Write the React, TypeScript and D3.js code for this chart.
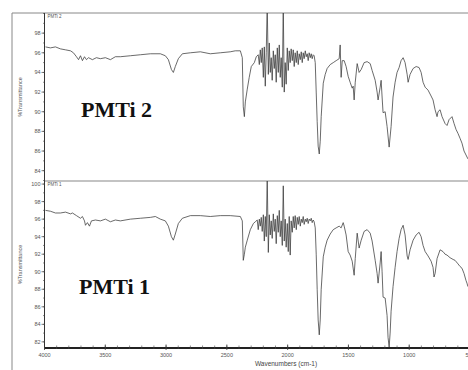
import React from "react";
import * as d3 from "d3";

// PMTi 2 spectrum: [wavenumber cm-1, %T]
const pmti2Wave = [3992,3951,3910,3869,3827,3786,3762,3737,3720,3704,3688,3671,3655,3638,3606,3573,3540,3499,3458,3417,3376,3293,3211,3129,3047,3006,2981,2956,2940,2924,2899,2866,2800,2718,2636,2554,2472,2431,2389,2373,2365,2356,2348,2332,2316,2299,2274,2258,2242,2233,2225,2217,2209,2200,2192,2184,2176,2168,2159,2151,2143,2135,2127,2118,2110,2102,2094,2085,2077,2069,2061,2053,2044,2036,2028,2020,2012,2003,1995,1987,1979,1971,1962,1954,1946,1938,1929,1921,1913,1905,1896,1888,1880,1872,1864,1855,1847,1839,1831,1823,1814,1806,1798,1790,1782,1773,1765,1757,1749,1740,1732,1724,1707,1691,1675,1650,1625,1601,1576,1568,1560,1551,1535,1519,1502,1486,1469,1461,1453,1444,1428,1412,1395,1371,1346,1321,1305,1280,1264,1256,1239,1231,1223,1215,1198,1182,1165,1149,1133,1116,1100,1083,1067,1050,1034,1017,1009,993,968,943,919,902,886,869,845,820,804,787,771,763,746,730,705,689,672,648,631,615,599,582,566,549,533,517];
const pmti2T = [96.6,96.5,96.6,96.4,96.3,96.2,96.0,95.6,95.3,95.7,95.2,95.6,95.3,95.5,95.3,95.5,95.4,95.5,95.3,95.6,95.6,95.7,95.8,95.9,95.9,95.7,95.3,94.3,94.0,94.6,95.4,95.9,96.0,96.1,95.9,96.0,96.1,96.2,96.2,95.5,90.5,89.5,91.0,92.3,93.5,94.6,95.0,95.6,95.8,94.8,96.3,95.0,96.5,93.5,96.6,92.6,96.0,101,93.8,97.0,94.0,95.5,93.2,96.2,94.4,95.8,93.0,96.5,94.0,96.8,93.5,95.5,92.5,101,92.0,95.0,92.8,96.5,94.2,96.2,95.0,96.4,95.2,96.3,94.6,96.0,95.0,96.2,94.8,95.9,95.3,96.1,95.0,96.0,95.4,96.2,95.6,95.9,95.2,96.0,95.5,95.9,95.4,95.8,95.7,95.0,92.0,89.0,86.5,85.7,87.0,89.5,92.9,93.8,94.4,94.8,95.0,95.2,95.4,96.8,93.5,95.2,95.2,94.6,93.6,93.0,92.4,92.6,91.2,93.0,94.9,94.0,94.3,95.0,95.1,94.9,94.2,93.2,92.0,91.2,92.5,93.2,91.5,89.9,90.0,88.5,86.4,88.5,91.5,93.0,94.0,94.5,95.2,95.5,95.0,93.8,93.0,93.8,94.4,94.6,94.5,94.0,93.0,92.5,92.2,91.6,91.2,90.2,89.5,90.0,90.2,89.5,88.8,88.6,89.2,89.5,88.8,88.2,87.8,87.3,86.8,86.0,85.6,85.2];

// PMTi 1 spectrum
const pmti1Wave = [3992,3951,3910,3869,3827,3786,3770,3737,3704,3688,3671,3663,3647,3630,3614,3581,3540,3499,3458,3417,3376,3293,3211,3129,3088,3047,3006,2981,2956,2940,2924,2899,2866,2800,2718,2636,2554,2472,2389,2373,2365,2356,2348,2332,2307,2282,2266,2250,2242,2233,2225,2217,2209,2200,2192,2184,2176,2168,2159,2151,2143,2135,2127,2118,2110,2102,2094,2085,2077,2069,2061,2053,2044,2036,2028,2020,2012,2003,1995,1987,1979,1971,1962,1954,1946,1938,1929,1921,1913,1905,1896,1888,1880,1872,1864,1855,1847,1839,1831,1823,1814,1806,1798,1790,1782,1773,1765,1757,1749,1740,1732,1724,1707,1691,1675,1650,1625,1601,1576,1560,1543,1535,1519,1502,1486,1469,1453,1444,1428,1412,1395,1371,1346,1321,1305,1280,1264,1256,1239,1231,1223,1215,1198,1182,1174,1165,1157,1149,1133,1116,1100,1083,1067,1050,1034,1017,1009,993,968,943,919,902,886,869,845,820,804,796,787,771,746,722,705,689,664,639,623,599,582,566,549,533,525,517];
const pmti1T = [97.0,96.9,96.7,96.7,96.8,96.6,96.7,96.4,96.1,96.3,95.8,95.3,95.6,95.2,95.8,95.9,95.8,96.0,95.7,95.9,95.8,96.0,96.1,96.2,96.3,96.0,95.8,95.2,94.0,93.6,94.3,95.5,96.1,96.4,96.4,96.3,96.4,96.4,96.3,95.8,91.3,92.0,92.8,93.6,94.8,95.5,95.7,95.9,94.8,96.0,95.2,96.2,94.6,96.5,93.5,96.3,94.0,101,92.2,96.5,94.2,95.8,93.8,96.6,94.6,96.0,93.2,96.4,94.5,97.0,94.0,95.8,93.0,99.8,93.5,96.0,92.8,95.5,92.3,96.3,91.9,95.8,94.5,96.3,95.0,96.4,94.8,96.2,95.4,96.3,95.2,96.0,95.6,96.3,95.4,96.0,95.7,96.1,95.5,96.0,95.8,96.1,95.6,95.9,95.7,95.0,92.0,88.0,84.5,82.8,84.5,88.0,91.7,92.8,93.6,94.3,94.8,95.0,95.2,95.0,95.6,95.2,94.2,92.3,91.9,91.2,89.6,91.5,94.4,92.7,93.6,94.6,94.8,94.4,93.5,91.3,89.8,88.7,91.0,92.3,90.0,87.1,87.0,85.0,82.5,81.4,83.0,85.5,88.3,90.5,92.3,93.8,94.8,95.3,94.2,91.8,91.4,92.5,93.6,94.2,94.5,94.0,93.0,92.3,91.8,91.2,90.5,89.4,89.8,91.5,92.5,92.3,92.0,91.9,91.6,91.4,91.3,90.9,90.6,90.4,89.8,89.0,88.7,88.3];

const xTicks = [4000, 3500, 3000, 2500, 2000, 1500, 1000, 500];
const upperTicks = [98, 96, 94, 92, 90, 88, 86, 84];
const lowerTicks = [100, 98, 96, 94, 92, 90, 88, 86, 84, 82];

const W = 468, H = 370;
const X0 = 44.5, X1 = 470;
const TOP = 13, MID = 181, BOT = 348;

export default function App() {
  const x = d3.scaleLinear().domain([4000, 500]).range([X0, X1]);
  const yU = d3.scaleLinear().domain([82.95, 100.05]).range([MID, TOP]);
  const yL = d3.scaleLinear().domain([81.3, 100.35]).range([BOT, MID]);

  const upperData = pmti2Wave.map((w, i) => [w, pmti2T[i]] as [number, number]);
  const lowerData = pmti1Wave.map((w, i) => [w, pmti1T[i]] as [number, number]);

  const lineU = d3.line<[number, number]>().x(d => x(d[0])).y(d => yU(d[1]));
  const lineL = d3.line<[number, number]>().x(d => x(d[0])).y(d => yL(d[1]));

  const minorX = d3.range(4000, 400, -100);
  const font = "'Liberation Sans', Arial, sans-serif";
  const tickColor = "#555";

  const yAxis = (scale: d3.ScaleLinear<number, number>, ticks: number[], lo: number, hi: number, key: string) => (
    <g key={key}>
      {d3.range(Math.ceil(lo), Math.floor(hi) + 1).map(v => (
        <line key={"m" + v} x1={X0 - 1.5} x2={X0} y1={scale(v)} y2={scale(v)} stroke="#444" strokeWidth={0.6} />
      ))}
      {ticks.map(t => (
        <g key={t}>
          <line x1={X0 - 3} x2={X0} y1={scale(t)} y2={scale(t)} stroke="#444" strokeWidth={0.7} />
          <text x={X0 - 4} y={scale(t) + 2} textAnchor="end" fontSize={5.5} fill={tickColor} fontFamily={font}>{t}</text>
        </g>
      ))}
    </g>
  );

  return (
    <svg width={W} height={H} style={{ position: "absolute", left: 0, top: 0, background: "#fff" }}>
      <defs>
        <clipPath id="clipU"><rect x={X0} y={TOP} width={X1 - X0} height={MID - TOP} /></clipPath>
        <clipPath id="clipL"><rect x={X0} y={MID} width={X1 - X0} height={BOT - MID} /></clipPath>
      </defs>
      <rect x={0} y={0} width={W} height={H} fill="#fff" />
      {/* outer frame */}
      <line x1={12} x2={W} y1={TOP} y2={TOP} stroke="#888" strokeWidth={1} />
      <line x1={12} x2={12} y1={TOP} y2={H} stroke="#888" strokeWidth={1} />
      {/* panel separator */}
      <line x1={X0} x2={W} y1={MID} y2={MID} stroke="#888" strokeWidth={1.2} />

      {/* spectra */}
      <path d={lineU(upperData) || ""} fill="none" stroke="#383838" strokeWidth={0.75} clipPath="url(#clipU)" />
      <path d={lineL(lowerData) || ""} fill="none" stroke="#383838" strokeWidth={0.75} clipPath="url(#clipL)" />

      {/* y axis */}
      <line x1={X0} x2={X0} y1={TOP} y2={BOT} stroke="#333" strokeWidth={1} />
      {yAxis(yU, upperTicks, 83, 100, "u")}
      {yAxis(yL, lowerTicks, 82, 100, "l")}

      {/* x axis */}
      <line x1={X0} x2={W} y1={BOT} y2={BOT} stroke="#222" strokeWidth={2} />
      {minorX.map(v => (
        <line key={"mx" + v} x1={x(v)} x2={x(v)} y1={BOT - 2.5} y2={BOT + 1} stroke="#444" strokeWidth={0.6} />
      ))}
      {xTicks.map(t => (
        <g key={t}>
          <line x1={x(t)} x2={x(t)} y1={BOT - 3.5} y2={BOT + 2} stroke="#333" strokeWidth={0.8} />
          <text x={x(t)} y={BOT + 9} textAnchor="middle" fontSize={5.5} fill={tickColor} fontFamily={font}>{t}</text>
        </g>
      ))}
      <text x={286} y={366} textAnchor="middle" fontSize={6.5} fill="#444" fontFamily={font}>Wavenumbers (cm-1)</text>

      {/* y titles */}
      <text transform={`translate(22,${(TOP + MID) / 2}) rotate(-90)`} textAnchor="middle" fontSize={5.5} fill="#555" fontFamily={font}>%Transmittance</text>
      <text transform={`translate(22,${(MID + BOT) / 2}) rotate(-90)`} textAnchor="middle" fontSize={5.5} fill="#555" fontFamily={font}>%Transmittance</text>

      {/* small panel labels */}
      <text x={X0 + 3} y={TOP + 4.5} fontSize={4.5} fill="#555" fontFamily={font}>PMTi 2</text>
      <text x={X0 + 3} y={MID + 4.5} fontSize={4.5} fill="#555" fontFamily={font}>PMTi 1</text>

      {/* big labels */}
      <text x={81} y={117} fontSize={22} fontWeight="bold" fill="#111" fontFamily="'Liberation Serif', 'Times New Roman', serif">PMTi 2</text>
      <text x={79} y={294} fontSize={22} fontWeight="bold" fill="#111" fontFamily="'Liberation Serif', 'Times New Roman', serif">PMTi 1</text>
    </svg>
  );
}
